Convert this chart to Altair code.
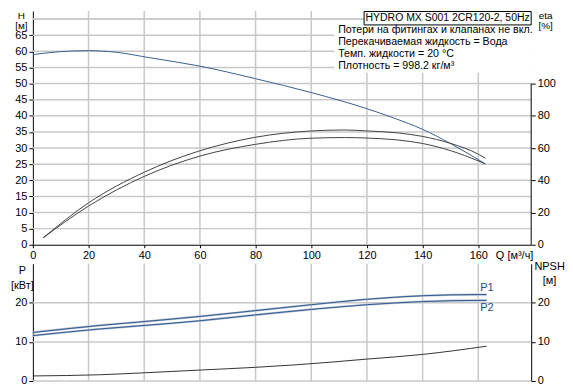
import altair as alt
import pandas as pd

# ---------------- data ----------------
Q_H = [0, 10, 20, 30, 42, 60, 80, 100, 120, 130, 140, 150, 162.5]
H_VALS = [59.0, 59.9, 60.2, 59.7, 58.0, 55.4, 51.5, 47.2, 42.2, 39.2, 35.8, 31.4, 25.1]

Q_ETA = [3.7, 20, 40, 60, 80, 100, 112, 120, 131, 140, 150, 160, 162.6]
ETA1 = [4.3, 26.0, 45.0, 58.3, 66.7, 70.6, 71.2, 70.6, 69.4, 67.2, 62.9, 56.2, 53.6]
ETA2 = [4.3, 24.0, 42.4, 55.0, 62.3, 66.1, 66.5, 66.2, 65.0, 62.8, 58.4, 52.0, 50.1]

Q_P = [0, 24, 40, 60, 80, 100, 120, 140, 160, 163]
P1_VALS = [12.4, 14.2, 15.2, 16.5, 18.0, 19.5, 20.9, 21.8, 22.1, 22.1]
P2_VALS = [11.6, 13.3, 14.2, 15.4, 16.9, 18.3, 19.5, 20.3, 20.6, 20.6]

Q_NPSH = [0, 24, 40, 60, 80, 95.7, 120, 140, 163]
NPSH_VALS = [1.3, 1.6, 2.1, 2.8, 3.5, 4.2, 5.6, 6.8, 8.9]

P_LABELS = ["P1", "P2"]
P_LABEL_Q = [160.7, 160.7]
P_LABEL_Y = [23.8, 18.7]

X_TICKS = [0, 20, 40, 60, 80, 100, 120, 140, 160]
H_TICKS = list(range(0, 75, 5))
ETA_TICKS = list(range(0, 110, 10))
P_TICKS = [0, 10, 20]

MODEL = "HYDRO MX S001 2CR120-2, 50Hz"
INFO_LINES = [
    "Потери на фитингах и клапанах не вкл.",
    "Перекачиваемая жидкость = Вода",
    "Темп. жидкости = 20 °C",
    "Плотность = 998.2 кг/м³",
]

# ---------------- tables ----------------
h_df = pd.DataFrame({"Q": Q_H, "H": H_VALS})
eta_df = pd.concat([
    pd.DataFrame({"Q": Q_ETA, "eta": ETA1, "series": "eta1"}),
    pd.DataFrame({"Q": Q_ETA, "eta": ETA2, "series": "eta2"}),
])
p_df = pd.concat([
    pd.DataFrame({"Q": Q_P, "P": P1_VALS, "series": "P1"}),
    pd.DataFrame({"Q": Q_P, "P": P2_VALS, "series": "P2"}),
])
n_df = pd.DataFrame({"Q": Q_NPSH, "NPSH": NPSH_VALS})
lbl_df = pd.DataFrame({"Q": P_LABEL_Q, "P": P_LABEL_Y, "label": P_LABELS})
one = pd.DataFrame({"a": [0]})
xgrid_df = pd.DataFrame({"Q": [float(v) for v in X_TICKS if v > 0]})
hgrid_df = pd.DataFrame({"H": [float(v) for v in H_TICKS if v > 0] + [70.0]})
pgrid_df = pd.DataFrame({"P": [float(v) for v in P_TICKS]})

FONT = "Liberation Sans"
W = 501
H_TOP = 235
H_BOT = 118
GRID = "#c8c8c8"
GW = 1.5
xs = alt.Scale(domain=[0, 179], nice=False, zero=False)
hs = alt.Scale(domain=[0, 72.5], nice=False)
es = alt.Scale(domain=[0, 145], nice=False)
ps = alt.Scale(domain=[0, 30], nice=False)

# ---------------- top panel ----------------
top_x = alt.X("Q:Q", scale=xs, axis=alt.Axis(
    values=X_TICKS, title="Q [м³/ч]", titleX=465, titleY=5, titleAlign="left",
    titleBaseline="top", tickSize=3, labelPadding=2, labelFlush=False,
    grid=False, labelOverlap=False))
h_y = alt.Y("H:Q", scale=hs, axis=alt.Axis(
    orient="left", values=H_TICKS, grid=False, tickSize=4, labelPadding=2,
    labelOverlap=False,
    labelExpr="datum.value >= 70 ? '' : datum.label",
    tickOpacity={"condition": {"test": "datum.value >= 70", "value": 0}, "value": 1},
    title=["H", "[м]"], titleAngle=0, titleAlign="center", titleBaseline="top",
    titleFontSize=10, titleX=-12, titleY=0, titleLineHeight=10))

vgrid = alt.Chart(xgrid_df).mark_rule(color=GRID, strokeWidth=GW).encode(x=top_x)
hgrid = alt.Chart(hgrid_df).mark_rule(color=GRID, strokeWidth=GW).encode(y=h_y)

h_chart = alt.Chart(h_df).mark_line(color="#3b5e91", strokeWidth=1, interpolate="monotone").encode(
    x=top_x, y=h_y)

eta_lines = alt.Chart(eta_df).mark_line(color="#444444", strokeWidth=1, interpolate="monotone").encode(
    x=top_x,
    y=alt.Y("eta:Q", scale=es, axis=alt.Axis(
        orient="right", values=ETA_TICKS, grid=False, domain=False, tickSize=4,
        labelPadding=2, labelOverlap=False,
        title=["eta", "[%]"], titleAngle=0, titleAlign="center", titleBaseline="top",
        titleFontSize=10, titleX=14, titleY=0, titleLineHeight=10)),
    detail="series:N",
)
eta_rule = alt.Chart(one).mark_rule(color="black", strokeWidth=1).encode(
    x=alt.value(W), y=alt.YDatum(0), y2=alt.Y2Datum(100))

white_rect = alt.Chart(one).mark_rect(color="white").encode(
    x=alt.value(303), x2=alt.value(W), y=alt.value(13), y2=alt.value(62))
model_box = alt.Chart(one).mark_rect(fill="white", stroke="black", strokeWidth=1).encode(
    x=alt.value(333), x2=alt.value(W), y=alt.value(0.5), y2=alt.value(14))
model_text = alt.Chart(pd.DataFrame({"t": [MODEL]})).mark_text(
    font=FONT, fontSize=10.5, align="center", baseline="middle", color="black").encode(
    x=alt.value(417), y=alt.value(7.5), text="t:N")
info_text = alt.Chart(pd.DataFrame({"t": ["\n".join(INFO_LINES)]})).mark_text(
    font=FONT, fontSize=10.7, align="left", baseline="top", lineBreak="\n",
    lineHeight=12, color="black").encode(
    x=alt.value(307), y=alt.value(14), text="t:N")
anchor = alt.Chart(one).mark_rule(opacity=0).encode(
    x=alt.value(-24), y=alt.value(0), y2=alt.value(2))

top = alt.layer(
    alt.layer(vgrid, hgrid, h_chart), alt.layer(eta_lines, eta_rule),
    white_rect, model_box, model_text, info_text, anchor
).resolve_scale(y="independent").properties(width=W, height=H_TOP)

# ---------------- bottom panel ----------------
bot_x = alt.X("Q:Q", scale=xs, axis=alt.Axis(
    values=X_TICKS, labels=False, ticks=False, domain=False, title=None, grid=False))
p_y = alt.Y("P:Q", scale=ps, axis=alt.Axis(
    orient="left", values=P_TICKS, grid=False, tickSize=4, labelPadding=2,
    title=["P", "[кВт]"], titleAngle=0, titleAlign="center", titleBaseline="top",
    titleX=-11, titleY=1, titleLineHeight=15))

vgrid_b = alt.Chart(xgrid_df).mark_rule(color=GRID, strokeWidth=GW).encode(x=bot_x)
pgrid = alt.Chart(pgrid_df).mark_rule(color=GRID, strokeWidth=GW).encode(y=p_y)
p_halo = alt.Chart(p_df).mark_line(color="#b8c0ce", strokeWidth=2.2, interpolate="monotone").encode(
    x=bot_x, y=p_y, detail="series:N")
p_core = alt.Chart(p_df).mark_line(color="#1f4e8c", strokeWidth=0.9, interpolate="monotone").encode(
    x=bot_x, y=p_y, detail="series:N")
p_text = alt.Chart(lbl_df).mark_text(font=FONT, fontSize=11, align="left", baseline="middle",
                                     color="#1f4e8c").encode(x=bot_x, y=p_y, text="label:N")
npsh = alt.Chart(n_df).mark_line(color="#333333", strokeWidth=1, interpolate="monotone").encode(
    x=bot_x,
    y=alt.Y("NPSH:Q", scale=ps, axis=alt.Axis(
        orient="right", values=P_TICKS, grid=False, domain=True, tickSize=4, labelPadding=2,
        title=["NPSH", "[м]"], titleAngle=0, titleAlign="center", titleBaseline="top",
        titleX=18, titleY=-3, titleLineHeight=14)),
)

bottom = alt.layer(
    alt.layer(vgrid_b, pgrid, p_halo, p_core, p_text), npsh
).resolve_scale(y="independent").properties(width=W, height=H_BOT)

chart = alt.vconcat(top, bottom, spacing=19, bounds="flush", padding=0).configure_view(
    stroke="transparent"
).configure_axis(
    labelFont=FONT, labelFontSize=11, labelColor="black",
    titleFont=FONT, titleFontSize=11, titleFontWeight="normal", titleColor="black",
    domainColor="black", tickColor="black",
)

chart.save("out.html", embed_options={"renderer": "svg", "actions": False})
